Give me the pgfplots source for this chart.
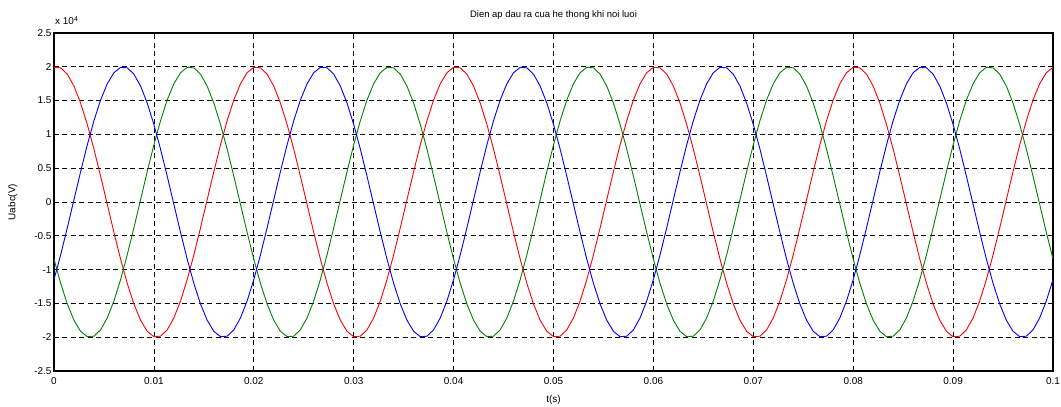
\documentclass[border=0pt]{standalone}
\usepackage{fontspec}
\setmainfont{Liberation Sans}
\usepackage{pgfplots}
\usepackage{pgfplotstable}
\pgfplotsset{compat=1.18}

% three phase output voltage, t(s)  ua  ub  uc (V)
\pgfplotstableread{
t ua ub uc
0 19924 -11472 -8452
0.000667 19851 -7815 -12036
0.001333 18910 -3816 -15094
0.002 17143 349 -17492
0.002667 14627 4499 -19126
0.003333 11472 8452 -19924
0.004 7815 12036 -19851
0.004667 3816 15094 -18910
0.005333 -349 17492 -17143
0.006 -4499 19126 -14627
0.006667 -8452 19924 -11472
0.007333 -12036 19851 -7815
0.008 -15094 18910 -3816
0.008667 -17492 17143 349
0.009333 -19126 14627 4499
0.01 -19924 11472 8452
0.010667 -19851 7815 12036
0.011333 -18910 3816 15094
0.012 -17143 -349 17492
0.012667 -14627 -4499 19126
0.013333 -11472 -8452 19924
0.014 -7815 -12036 19851
0.014667 -3816 -15094 18910
0.015333 349 -17492 17143
0.016 4499 -19126 14627
0.016667 8452 -19924 11472
0.017333 12036 -19851 7815
0.018 15094 -18910 3816
0.018667 17492 -17143 -349
0.019333 19126 -14627 -4499
0.02 19924 -11472 -8452
0.020667 19851 -7815 -12036
0.021333 18910 -3816 -15094
0.022 17143 349 -17492
0.022667 14627 4499 -19126
0.023333 11472 8452 -19924
0.024 7815 12036 -19851
0.024667 3816 15094 -18910
0.025333 -349 17492 -17143
0.026 -4499 19126 -14627
0.026667 -8452 19924 -11472
0.027333 -12036 19851 -7815
0.028 -15094 18910 -3816
0.028667 -17492 17143 349
0.029333 -19126 14627 4499
0.03 -19924 11472 8452
0.030667 -19851 7815 12036
0.031333 -18910 3816 15094
0.032 -17143 -349 17492
0.032667 -14627 -4499 19126
0.033333 -11472 -8452 19924
0.034 -7815 -12036 19851
0.034667 -3816 -15094 18910
0.035333 349 -17492 17143
0.036 4499 -19126 14627
0.036667 8452 -19924 11472
0.037333 12036 -19851 7815
0.038 15094 -18910 3816
0.038667 17492 -17143 -349
0.039333 19126 -14627 -4499
0.04 19924 -11472 -8452
0.040667 19851 -7815 -12036
0.041333 18910 -3816 -15094
0.042 17143 349 -17492
0.042667 14627 4499 -19126
0.043333 11472 8452 -19924
0.044 7815 12036 -19851
0.044667 3816 15094 -18910
0.045333 -349 17492 -17143
0.046 -4499 19126 -14627
0.046667 -8452 19924 -11472
0.047333 -12036 19851 -7815
0.048 -15094 18910 -3816
0.048667 -17492 17143 349
0.049333 -19126 14627 4499
0.05 -19924 11472 8452
0.050667 -19851 7815 12036
0.051333 -18910 3816 15094
0.052 -17143 -349 17492
0.052667 -14627 -4499 19126
0.053333 -11472 -8452 19924
0.054 -7815 -12036 19851
0.054667 -3816 -15094 18910
0.055333 349 -17492 17143
0.056 4499 -19126 14627
0.056667 8452 -19924 11472
0.057333 12036 -19851 7815
0.058 15094 -18910 3816
0.058667 17492 -17143 -349
0.059333 19126 -14627 -4499
0.06 19924 -11472 -8452
0.060667 19851 -7815 -12036
0.061333 18910 -3816 -15094
0.062 17143 349 -17492
0.062667 14627 4499 -19126
0.063333 11472 8452 -19924
0.064 7815 12036 -19851
0.064667 3816 15094 -18910
0.065333 -349 17492 -17143
0.066 -4499 19126 -14627
0.066667 -8452 19924 -11472
0.067333 -12036 19851 -7815
0.068 -15094 18910 -3816
0.068667 -17492 17143 349
0.069333 -19126 14627 4499
0.07 -19924 11472 8452
0.070667 -19851 7815 12036
0.071333 -18910 3816 15094
0.072 -17143 -349 17492
0.072667 -14627 -4499 19126
0.073333 -11472 -8452 19924
0.074 -7815 -12036 19851
0.074667 -3816 -15094 18910
0.075333 349 -17492 17143
0.076 4499 -19126 14627
0.076667 8452 -19924 11472
0.077333 12036 -19851 7815
0.078 15094 -18910 3816
0.078667 17492 -17143 -349
0.079333 19126 -14627 -4499
0.08 19924 -11472 -8452
0.080667 19851 -7815 -12036
0.081333 18910 -3816 -15094
0.082 17143 349 -17492
0.082667 14627 4499 -19126
0.083333 11472 8452 -19924
0.084 7815 12036 -19851
0.084667 3816 15094 -18910
0.085333 -349 17492 -17143
0.086 -4499 19126 -14627
0.086667 -8452 19924 -11472
0.087333 -12036 19851 -7815
0.088 -15094 18910 -3816
0.088667 -17492 17143 349
0.089333 -19126 14627 4499
0.09 -19924 11472 8452
0.090667 -19851 7815 12036
0.091333 -18910 3816 15094
0.092 -17143 -349 17492
0.092667 -14627 -4499 19126
0.093333 -11472 -8452 19924
0.094 -7815 -12036 19851
0.094667 -3816 -15094 18910
0.095333 349 -17492 17143
0.096 4499 -19126 14627
0.096667 8452 -19924 11472
0.097333 12036 -19851 7815
0.098 15094 -18910 3816
0.098667 17492 -17143 -349
0.099333 19126 -14627 -4499
0.1 19924 -11472 -8452
}\uabc

\definecolor{mred}{RGB}{255,0,0}
\definecolor{mgreen}{RGB}{0,128,0}
\definecolor{mblue}{RGB}{0,0,255}

\begin{document}
\begin{tikzpicture}
  \useasboundingbox (-54bp,-36bp) rectangle (1007bp,371bp);
  \begin{axis}[
    at={(0,0)}, anchor=south west,
    scale only axis, width=999bp, height=338bp,
    xmin=0, xmax=0.1, ymin=-25000, ymax=25000,
    xtick={0,0.01,0.02,0.03,0.04,0.05,0.06,0.07,0.08,0.09,0.1},
    ytick={-25000,-20000,-15000,-10000,-5000,0,5000,10000,15000,20000,25000},
    scaled x ticks=false,
    scaled y ticks=base 10:-4,
    ytick scale label code/.code={x 10\textsuperscript{#1}},
    every y tick scale label/.style={at={(0,1)}, anchor=south west,
      inner sep=0pt, yshift=8bp, font=\fontsize{10}{11}\selectfont},
    /pgf/number format/assume math mode=true,
    /pgf/number format/1000 sep={},
    xticklabel style={/pgf/number format/fixed, /pgf/number format/precision=2, yshift=-3bp},
    yticklabel style={/pgf/number format/fixed, /pgf/number format/precision=1, xshift=1bp},
    tick label style={font=\fontsize{10}{11}\selectfont},
    tick align=inside, major tick length=5bp,
    every tick/.style={black, line width=0.8bp},
    axis line style={line width=1.1bp},
    grid=major,
    grid style={black, line width=0.8bp, dash pattern=on 5bp off 3.5bp},
    title={Dien ap dau ra cua he thong khi noi luoi},
    title style={font=\fontsize{9.5}{10}\selectfont, yshift=4bp},
    xlabel={t(s)}, ylabel={Uabc(V)},
    xlabel style={font=\fontsize{10}{11}\selectfont, yshift=-4bp},
    ylabel style={font=\fontsize{10}{11}\selectfont, yshift=10bp},
  ]
    \addplot[mred, line width=0.9bp] table[x=t, y=ua] {\uabc};
    \addplot[mgreen, line width=0.9bp] table[x=t, y=uc] {\uabc};
    \addplot[mblue, line width=0.9bp] table[x=t, y=ub] {\uabc};
  \end{axis}
\end{tikzpicture}
\end{document}
